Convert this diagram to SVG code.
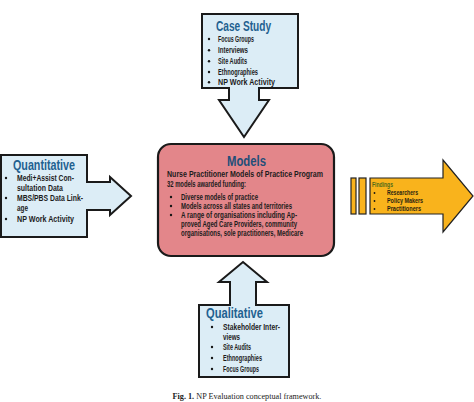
<svg xmlns="http://www.w3.org/2000/svg" width="474" height="402" viewBox="0 0 474 402">
<style>
.callout{fill:#dcedf6;stroke:#1a1a1a;stroke-width:2;stroke-linejoin:miter}
.models{fill:#e3868a;stroke:#1a1a1a;stroke-width:2.2}
.find{fill:#f9b31c;stroke:#222;stroke-width:1.2}
.title{font-family:"Liberation Sans",Arial,sans-serif;font-weight:bold;font-size:14px;fill:#1f6190}
.mtitle{font-family:"Liberation Sans",Arial,sans-serif;font-weight:bold;font-size:14.5px;fill:#1f4e79}
.t{font-family:"Liberation Sans",Arial,sans-serif;font-weight:bold;font-size:8.8px;fill:#1c1c1c}
.ft{font-family:"Liberation Sans",Arial,sans-serif;font-weight:bold;font-size:6.6px;fill:#2b2410}
.fh{font-family:"Liberation Sans",Arial,sans-serif;font-weight:bold;font-size:6.6px;fill:#4f6b1a}
.cap{font-family:"Liberation Serif","Times New Roman",serif;font-size:8.2px;fill:#222}
.b{fill:#151515}
</style>
<g id="connectors"></g>
<g id="case-study">
<path class="callout" d="M202,14 H298 V88 H259 V100 H269 L244,137 L219,100 H229 V88 H202 Z"/>
<text class="title" x="216" y="31" textLength="55" lengthAdjust="spacingAndGlyphs">Case Study</text>
<circle class="b" cx="209" cy="39" r="1.2"/><text class="t" x="218" y="42" textLength="36" lengthAdjust="spacingAndGlyphs">Focus Groups</text>
<circle class="b" cx="209" cy="50.2" r="1.2"/><text class="t" x="218" y="53.2" textLength="30" lengthAdjust="spacingAndGlyphs">Interviews</text>
<circle class="b" cx="209" cy="61.2" r="1.2"/><text class="t" x="218" y="64.2" textLength="29" lengthAdjust="spacingAndGlyphs">Site Audits</text>
<circle class="b" cx="209" cy="72" r="1.2"/><text class="t" x="218" y="75" textLength="40" lengthAdjust="spacingAndGlyphs">Ethnographies</text>
<circle class="b" cx="209" cy="82.2" r="1.2"/><text class="t" x="218" y="85.2" textLength="57" lengthAdjust="spacingAndGlyphs">NP Work Activity</text>
</g>
<g id="quantitative">
<path class="callout" d="M1,155 H87 V182 H110 V177 L131,196 L110,215 V210 H87 V237 H1 Z"/>
<text class="title" x="13" y="170" textLength="62" lengthAdjust="spacingAndGlyphs">Quantitative</text>
<circle class="b" cx="6" cy="178" r="1.2"/><text class="t" x="17" y="181" textLength="57" lengthAdjust="spacingAndGlyphs">Medi+Assist Con-</text>
<text class="t" x="17" y="191" textLength="46" lengthAdjust="spacingAndGlyphs">sultation Data</text>
<circle class="b" cx="6" cy="198" r="1.2"/><text class="t" x="17" y="201" textLength="66" lengthAdjust="spacingAndGlyphs">MBS/PBS Data Link-</text>
<text class="t" x="17" y="211" textLength="11" lengthAdjust="spacingAndGlyphs">age</text>
<circle class="b" cx="6" cy="219" r="1.2"/><text class="t" x="17" y="222" textLength="57" lengthAdjust="spacingAndGlyphs">NP Work Activity</text>
</g>
<g id="models">
<rect class="models" x="158" y="144" width="176" height="112" rx="13"/>
<text class="mtitle" x="227" y="166" textLength="39" lengthAdjust="spacingAndGlyphs">Models</text>
<text class="t" x="167" y="176.5" textLength="156" lengthAdjust="spacingAndGlyphs">Nurse Practitioner Models of Practice Program</text>
<text class="t" x="167" y="186.5" textLength="79" lengthAdjust="spacingAndGlyphs">32 models awarded funding:</text>
<circle class="b" cx="171" cy="197" r="1.2"/><text class="t" x="181" y="200" textLength="77" lengthAdjust="spacingAndGlyphs">Diverse models of practice</text>
<circle class="b" cx="171" cy="206" r="1.2"/><text class="t" x="181" y="209" textLength="111" lengthAdjust="spacingAndGlyphs">Models across all states and territories</text>
<circle class="b" cx="171" cy="215" r="1.2"/><text class="t" x="181" y="218" textLength="116" lengthAdjust="spacingAndGlyphs">A range of organisations including Ap-</text>
<text class="t" x="181" y="227" textLength="116" lengthAdjust="spacingAndGlyphs">proved Aged Care Providers, community</text>
<text class="t" x="181" y="236" textLength="122" lengthAdjust="spacingAndGlyphs">organisations, sole practitioners, Medicare</text>
</g>
<g id="qualitative">
<path class="callout" d="M199,305 H230 V282 H219 L243,262 L267,282 H256 V305 H289 V377 H199 Z"/>
<text class="title" x="206" y="318" textLength="57" lengthAdjust="spacingAndGlyphs">Qualitative</text>
<circle class="b" cx="212" cy="327" r="1.2"/><text class="t" x="223" y="330" textLength="57" lengthAdjust="spacingAndGlyphs">Stakeholder Inter-</text>
<text class="t" x="223" y="340" textLength="17" lengthAdjust="spacingAndGlyphs">views</text>
<circle class="b" cx="212" cy="347" r="1.2"/><text class="t" x="223" y="350" textLength="28" lengthAdjust="spacingAndGlyphs">Site Audits</text>
<circle class="b" cx="212" cy="358" r="1.2"/><text class="t" x="223" y="361" textLength="39" lengthAdjust="spacingAndGlyphs">Ethnographies</text>
<circle class="b" cx="212" cy="369" r="1.2"/><text class="t" x="223" y="372" textLength="36" lengthAdjust="spacingAndGlyphs">Focus Groups</text>
</g>
<g id="findings">
<rect class="find" x="351" y="178" width="5" height="36"/>
<rect class="find" x="359" y="178" width="7" height="36"/>
<path class="find" d="M370,178 H443 V160 L473,196 L443,232 V214 H370 Z"/>
<text class="fh" x="372" y="186.5" textLength="21" lengthAdjust="spacingAndGlyphs">Findings</text>
<circle class="b" cx="374.5" cy="193" r="0.9"/><text class="ft" x="387" y="195" textLength="31" lengthAdjust="spacingAndGlyphs">Researchers</text>
<circle class="b" cx="374.5" cy="201" r="0.9"/><text class="ft" x="387" y="203" textLength="36" lengthAdjust="spacingAndGlyphs">Policy Makers</text>
<circle class="b" cx="374.5" cy="209" r="0.9"/><text class="ft" x="387" y="211" textLength="34" lengthAdjust="spacingAndGlyphs">Practitioners</text>
</g>
<g id="caption">
<text class="cap" x="247" y="399" text-anchor="middle"><tspan font-weight="bold">Fig. 1.</tspan> NP Evaluation conceptual framework.</text>
</g>
</svg>
